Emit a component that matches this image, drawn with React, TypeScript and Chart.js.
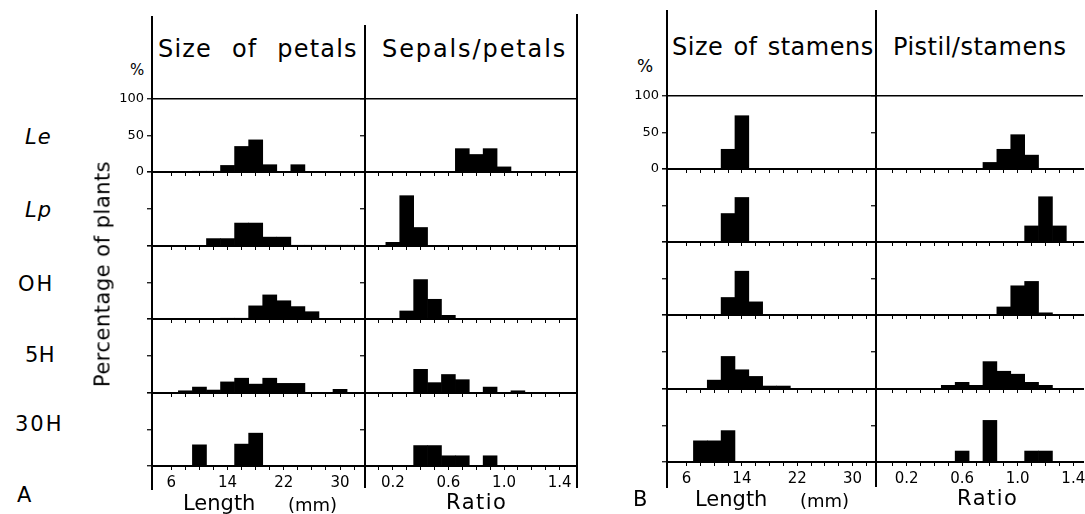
import React, { useEffect, useRef } from 'react';
import { Chart, registerables } from 'chart.js';

Chart.register(...registerables);
Chart.defaults.font.family = "'DejaVu Sans', sans-serif";
Chart.defaults.color = '#000';

// ---------- data ----------
const groups = ['Le', 'Lp', 'OH', '5H', '30H'];
const lengthBins = [6, 8, 10, 12, 14, 16, 18, 20, 22, 24, 26, 28, 30, 32];
const ratioBins = [0.1, 0.2, 0.3, 0.4, 0.5, 0.6, 0.7, 0.8, 0.9, 1.0, 1.1, 1.2, 1.3, 1.4];
const lengthTickLabels = ['6', '14', '22', '30'];
const ratioTickLabels = ['0.2', '0.6', '1.0', '1.4'];
const percentTicks = [0, 50, 100];
const percentTickLabels = ['0', '50', '100'];

// Size of petals (% of plants per 2 mm class)
const petalLe = [0, 0, 1, 1, 9, 35, 44, 10, 0, 10, 0, 0, 0, 0];
const petalLp = [0, 0, 0, 10, 10, 31, 31, 12, 12, 1, 1, 1, 1, 1];
const petalOH = [0, 0, 0, 0, 1, 1, 18, 33, 25, 17, 10, 0, 0, 0];
const petal5H = [0, 3, 8, 4, 15, 20, 12, 20, 13, 13, 0, 0, 5, 0];
const petal30H = [0, 0, 29, 0, 0, 30, 45, 0, 0, 0, 0, 0, 0, 0];

// Sepals/petals ratio
const sepalLe = [0, 0, 0, 0, 0, 0, 32, 24, 32, 7, 0, 0, 0, 0];
const sepalLp = [0, 5, 68, 25, 0, 0, 0, 0, 0, 0, 0, 0, 0, 0];
const sepalOH = [0, 0, 11, 54, 27, 5, 0, 0, 0, 0, 0, 0, 0, 0];
const sepal5H = [0, 0, 0, 32, 14, 25, 18, 0, 8, 0, 3, 0, 0, 0];
const sepal30H = [0, 0, 0, 28, 28, 14, 14, 0, 14, 0, 0, 0, 0, 0];

// Size of stamens
const stamenLe = [0, 0, 0, 27, 73, 0, 0, 0, 0, 0, 0, 0, 0, 0];
const stamenLp = [0, 0, 0, 39, 61, 0, 0, 0, 0, 0, 0, 0, 0, 0];
const stamenOH = [0, 0, 0, 24, 60, 18, 0, 0, 0, 0, 0, 0, 0, 0];
const stamen5H = [0, 0, 12, 44, 26, 17, 4, 4, 0, 0, 0, 0, 0, 0];
const stamen30H = [0, 29, 29, 43, 0, 0, 0, 0, 0, 0, 0, 0, 0, 0];

// Pistil/stamens ratio
const pistilLe = [0, 0, 0, 0, 0, 0, 0, 9, 27, 47, 19, 0, 0, 0];
const pistilLp = [0, 0, 0, 0, 0, 0, 0, 0, 0, 0, 22, 62, 22, 0];
const pistilOH = [0, 0, 0, 0, 0, 0, 0, 0, 11, 40, 46, 3, 0, 0];
const pistil5H = [0, 0, 0, 0, 5, 9, 5, 37, 24, 20, 9, 5, 0, 0];
const pistil30H = [0, 0, 0, 0, 0, 15, 0, 57, 0, 0, 15, 15, 0, 0];

const petalSeries = [petalLe, petalLp, petalOH, petal5H, petal30H];
const sepalSeries = [sepalLe, sepalLp, sepalOH, sepal5H, sepal30H];
const stamenSeries = [stamenLe, stamenLp, stamenOH, stamen5H, stamen30H];
const pistilSeries = [pistilLe, pistilLp, pistilOH, pistil5H, pistil30H];

// ---------- layout ----------
const YW = 44;
const PT = 10;
const PR = 2;
const XH_INNER = 8;
const XH_BOTTOM = 30;

const panels = [
  {
    top: 99,
    rowH: 73.4,
    columns: [
      { left: 152, width: 213, bins: lengthBins, min: 3.25, max: 33.55, labels: lengthTickLabels, series: petalSeries },
      { left: 365, width: 212, bins: ratioBins, min: 0, max: 1.525, labels: ratioTickLabels, series: sepalSeries },
    ],
  },
  {
    top: 95.5,
    rowH: 73.3,
    columns: [
      { left: 667, width: 209, bins: lengthBins, min: 3.18, max: 33.38, labels: lengthTickLabels, series: stamenSeries },
      { left: 876, width: 207, bins: ratioBins, min: -0.02, max: 1.47, labels: ratioTickLabels, series: pistilSeries },
    ],
  },
];

function labelFor(v: number, labels: string[]): string {
  const f = labels.find((l) => Math.abs(parseFloat(l) - v) < 1e-6);
  return f ?? '';
}

type CellProps = {
  left: number;
  top: number;
  w: number;
  h: number;
  bins: number[];
  values: number[];
  min: number;
  max: number;
  labels: string[];
  showX: boolean;
  showY: boolean;
  topLine: boolean;
};

function Cell(p: CellProps) {
  const ref = useRef<HTMLCanvasElement | null>(null);
  const xh = p.showX ? XH_BOTTOM : XH_INNER;
  const cw = YW + p.w + PR;
  const ch = PT + p.h + xh;
  useEffect(() => {
    if (!ref.current) return;
    const pts = p.bins.map((b, i) => ({ x: b, y: p.values[i] })).filter((d) => d.y > 0);
    const chart = new Chart(ref.current, {
      type: 'bar',
      data: {
        datasets: [
          {
            data: pts as any,
            backgroundColor: '#000',
            borderWidth: 0,
            barPercentage: 1,
            categoryPercentage: 1,
            grouped: false,
          } as any,
        ],
      },
      options: {
        animation: false,
        responsive: false,
        maintainAspectRatio: false,
        events: [],
        layout: { padding: { top: PT, right: PR, left: 0, bottom: 0 } },
        plugins: { legend: { display: false }, tooltip: { enabled: false }, title: { display: false } },
        scales: {
          x: {
            type: 'linear',
            min: p.min,
            max: p.max,
            offset: false,
            afterBuildTicks: (s: any) => {
              s.ticks = p.bins.map((v) => ({ value: v }));
            },
            afterFit: (s: any) => {
              s.height = xh;
              s.paddingLeft = 0;
              s.paddingRight = 0;
            },
            ticks: {
              display: p.showX,
              autoSkip: false,
              maxRotation: 0,
              minRotation: 0,
              padding: 4,
              font: { size: 15 },
              color: '#000',
              callback: (v: any) => labelFor(Number(v), p.labels),
            },
            grid: {
              drawOnChartArea: false,
              offset: false,
              drawTicks: true,
              tickLength: 4,
              tickColor: '#000',
              tickWidth: 1,
            },
            border: { display: true, color: '#000', width: 2 },
          } as any,
          y: {
            type: 'linear',
            min: 0,
            max: 100,
            afterBuildTicks: (s: any) => {
              s.ticks = percentTicks.map((v) => ({ value: v }));
            },
            afterFit: (s: any) => {
              s.width = YW;
              s.paddingTop = 0;
              s.paddingBottom = 0;
            },
            ticks: {
              display: p.showY,
              padding: 3,
              font: { size: 13 },
              color: '#000',
              callback: (v: any) => labelFor(Number(v), percentTickLabels),
            },
            grid: {
              drawOnChartArea: true,
              color: (c: any) => (p.topLine && c.tick && c.tick.value === 100 ? '#000' : 'rgba(0,0,0,0)'),
              lineWidth: 1.5,
              drawTicks: true,
              tickColor: '#000',
              tickLength: 5,
              tickWidth: 1.2,
            },
            border: { display: true, color: '#000', width: 1.5 },
          } as any,
        },
      },
    });
    return () => chart.destroy();
  }, []);
  return (
    <canvas
      ref={ref}
      width={cw}
      height={ch}
      style={{ position: 'absolute', left: p.left - YW, top: p.top - PT, width: cw, height: ch }}
    />
  );
}

type TextProps = {
  t: string;
  x: number;
  y: number;
  s: number;
  ls?: number;
  ws?: number;
  italic?: boolean;
};

function Txt({ t, x, y, s, ls = 0, ws = 0, italic = false }: TextProps) {
  return (
    <div
      style={{
        position: 'absolute',
        left: x,
        top: y - 0.846 * s,
        fontSize: s,
        lineHeight: s + 'px',
        height: s,
        fontFamily: "'DejaVu Sans', sans-serif",
        fontStyle: italic ? 'italic' : 'normal',
        letterSpacing: ls,
        wordSpacing: ws,
        whiteSpace: 'pre',
        color: '#000',
      }}
    >
      {t}
    </div>
  );
}

function VLine({ x, y1, y2 }: { x: number; y1: number; y2: number }) {
  return <div style={{ position: 'absolute', left: x - 0.75, top: y1, width: 1.5, height: y2 - y1, background: '#000' }} />;
}

const rowLabelPos = [
  { x: 25, y: 145, italic: true, ls: 1 },
  { x: 25, y: 218, italic: true, ls: 1 },
  { x: 18, y: 292, italic: false, ls: 2 },
  { x: 25, y: 363, italic: false, ls: 0.5 },
  { x: 15, y: 432, italic: false, ls: 2 },
];

export default function App() {
  const cells: React.ReactNode[] = [];
  panels.forEach((panel, pi) => {
    panel.columns.forEach((col, ci) => {
      for (let r = 0; r < groups.length; r++) {
        const top = Math.round(panel.top + r * panel.rowH);
        const bottom = Math.round(panel.top + (r + 1) * panel.rowH);
        cells.push(
          <Cell
            key={`${pi}-${ci}-${r}`}
            left={col.left}
            top={top}
            w={col.width}
            h={bottom - top}
            bins={col.bins}
            values={col.series[r]}
            min={col.min}
            max={col.max}
            labels={col.labels}
            showX={r === groups.length - 1}
            showY={r === 0 && ci === 0}
            topLine={r === 0}
          />
        );
      }
    });
  });

  return (
    <div
      style={{
        position: 'absolute',
        left: 0,
        top: 0,
        width: 1085,
        height: 514,
        overflow: 'hidden',
        background: '#fff',
      }}
    >
      {/* frame lines extending above and below the panels */}
      <VLine x={152} y1={16} y2={490} />
      <VLine x={365} y1={25} y2={488} />
      <VLine x={577} y1={14} y2={488} />
      <VLine x={667} y1={10} y2={488} />
      <VLine x={876} y1={10} y2={487} />

      {cells}

      <Txt t="Size of petals" x={158} y={57} s={24} ls={1.2} ws={11} />
      <Txt t="Sepals/petals" x={382} y={57} s={24} ls={1.9} />
      <Txt t="Size of stamens" x={672} y={55} s={24} ls={0.5} ws={2} />
      <Txt t="Pistil/stamens" x={893} y={55} s={24} ls={0.5} />

      <Txt t="%" x={130} y={76} s={15} />
      <Txt t="%" x={637} y={72} s={17} />

      {groups.map((g, i) => (
        <Txt key={g} t={g} x={rowLabelPos[i].x} y={rowLabelPos[i].y} s={21} ls={rowLabelPos[i].ls} italic={rowLabelPos[i].italic} />
      ))}

      <div
        style={{
          position: 'absolute',
          left: 102.5,
          top: 273.5,
          transform: 'translate(-50%, -50%) rotate(-90deg)',
          fontSize: 21,
          lineHeight: '21px',
          fontFamily: "'DejaVu Sans', sans-serif",
          letterSpacing: 0.5,
          whiteSpace: 'pre',
          color: '#000',
        }}
      >
        Percentage of plants
      </div>

      <Txt t="A" x={17} y={503} s={21} />
      <Txt t="B" x={633} y={507} s={21} />
      <Txt t="Length" x={183} y={511} s={21} />
      <Txt t="(mm)" x={288} y={511} s={18} />
      <Txt t="Ratio" x={446} y={510} s={21} ls={1.5} />
      <Txt t="Length" x={695} y={507} s={21} />
      <Txt t="(mm)" x={800} y={507} s={18} />
      <Txt t="Ratio" x={957} y={506} s={21} ls={1.5} />
    </div>
  );
}
